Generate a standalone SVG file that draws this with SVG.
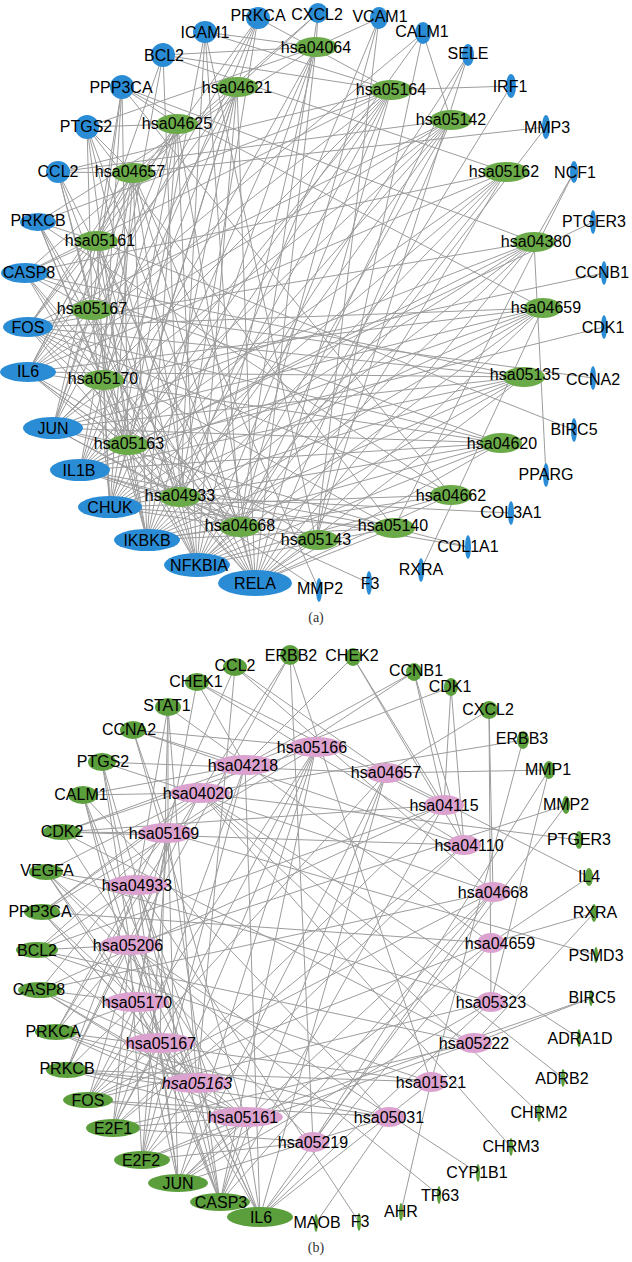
<svg xmlns="http://www.w3.org/2000/svg" width="632" height="1262" viewBox="0 0 632 1262">
<style>
.e{stroke:#9c9c9c;stroke-width:1;fill:none}
.nb{fill:#2b8cd6}
.ga{fill:#6aaa48}
.gb{fill:#5b9e3c}
.pk{fill:#dca2cf}
.t{font-family:"Liberation Sans",Arial,Helvetica,sans-serif;font-size:16px;text-anchor:middle;fill:#000}
.it{font-style:italic}
.cap{font-family:"Liberation Serif","Times New Roman",serif;font-size:14px;text-anchor:middle;fill:#333}
</style>
<rect width="632" height="1262" fill="#fff"/>
<g id="edges-a" class="e">
<path d="M255 583L237 87M255 583L316 47M255 583L391 90M255 583L451 120M255 583L506 172M255 583L534 242M255 583L543 308M255 583L524 377M255 583L501 443M255 583L451 495M255 583L394 528M255 583L316 540M255 583L240 527M255 583L180 497M255 583L128 445M255 583L103 380M255 583L92 310M255 583L97 241M255 583L133 173M255 583L177 124"/>
<path d="M197 565L237 87M197 565L316 47M197 565L391 90M197 565L451 120M197 565L506 172M197 565L534 242M197 565L543 308M197 565L524 377M197 565L501 443M197 565L451 495M197 565L394 528M197 565L240 527M197 565L180 497M197 565L128 445M197 565L103 380M197 565L92 310M197 565L97 241M197 565L133 173M197 565L177 124"/>
<path d="M147 540L237 87M147 540L316 47M147 540L391 90M147 540L451 120M147 540L506 172M147 540L534 242M147 540L543 308M147 540L524 377M147 540L501 443M147 540L451 495M147 540L394 528M147 540L240 527M147 540L128 445M147 540L103 380M147 540L92 310M147 540L97 241M147 540L133 173M147 540L177 124"/>
<path d="M110 507L237 87M110 507L316 47M110 507L391 90M110 507L451 120M110 507L506 172M110 507L534 242M110 507L543 308M110 507L524 377M110 507L501 443M110 507L451 495M110 507L394 528M110 507L240 527M110 507L128 445M110 507L103 380M110 507L92 310M110 507L97 241M110 507L133 173M110 507L177 124"/>
<path d="M80 470L237 87M80 470L316 47M80 470L391 90M80 470L451 120M80 470L506 172M80 470L534 242M80 470L543 308M80 470L524 377M80 470L501 443M80 470L394 528M80 470L316 540M80 470L240 527M80 470L180 497M80 470L128 445M80 470L133 173M80 470L177 124"/>
<path d="M53 428L237 87M53 428L391 90M53 428L451 120M53 428L534 242M53 428L543 308M53 428L524 377M53 428L501 443M53 428L394 528M53 428L240 527M53 428L180 497M53 428L128 445M53 428L103 380M53 428L92 310M53 428L97 241M53 428L133 173M53 428L177 124"/>
<path d="M28 372L237 87M28 372L391 90M28 372L451 120M28 372L506 172M28 372L543 308M28 372L524 377M28 372L501 443M28 372L316 540M28 372L240 527M28 372L180 497M28 372L128 445M28 372L92 310M28 372L97 241M28 372L133 173M28 372L177 124"/>
<path d="M28 327L451 120M28 327L534 242M28 327L543 308M28 327L524 377M28 327L501 443M28 327L451 495M28 327L394 528M28 327L240 527M28 327L128 445M28 327L103 380M28 327L92 310M28 327L97 241M28 327L133 173M28 327L177 124"/>
<path d="M25 273L237 87M25 273L391 90M25 273L506 172M25 273L524 377M25 273L501 443M25 273L240 527M25 273L128 445M25 273L103 380M25 273L92 310M25 273L97 241"/>
<path d="M38 222L316 47M38 222L391 90M38 222L451 495M38 222L180 497M38 222L128 445M38 222L103 380M38 222L92 310M38 222L97 241"/>
<path d="M58 172L391 90M58 172L451 120M58 172L240 527M58 172L180 497M58 172L128 445M58 172L92 310M58 172L133 173"/>
<path d="M87 127L316 47M87 127L394 528M87 127L240 527M87 127L180 497M87 127L128 445M87 127L92 310M87 127L133 173M87 127L177 124"/>
<path d="M122 87L534 242M122 87L543 308M122 87L451 495M122 87L128 445M122 87L103 380M122 87L92 310M122 87L97 241M122 87L177 124"/>
<path d="M163 55L316 47M163 55L391 90M163 55L506 172M163 55L180 497M163 55L103 380M163 55L97 241"/>
<path d="M205 32L316 47M205 32L391 90M205 32L316 540M205 32L240 527M205 32L180 497M205 32L128 445"/>
<path d="M258 18L391 90M258 18L180 497M258 18L128 445M258 18L103 380M258 18L92 310M258 18L97 241"/>
<path d="M318 13L237 87M318 13L316 47M318 13L240 527M318 13L133 173"/>
<path d="M379 18L316 47M379 18L316 540M379 18L240 527M379 18L180 497"/>
<path d="M423 33L451 120M423 33L316 540M423 33L128 445M423 33L92 310"/>
<path d="M468 55L316 540M468 55L240 527M468 55L180 497"/>
<path d="M511 86L391 90M511 86L240 527M546 127L133 173M546 127L240 527M574 172L534 242M574 172L394 528"/>
<path d="M593 222L128 445M604 273L103 380M604 327L128 445M593 378L92 310M574 430L97 241M546 475L534 242M511 513L180 497M468 547L180 497M468 547L394 528M421 570L543 308M369 583L180 497M319 590L180 497M319 590L133 173"/>
</g>
<g id="edges-b" class="e">
<path d="M260 1217L245 765M260 1217L386 773M260 1217L137 885M260 1217L493 892M260 1217L130 945M260 1217L491 943M260 1217L491 1002M260 1217L160 1043M260 1217L197 1083M260 1217L431 1082M260 1217L245 1117"/>
<path d="M220 1202L316 747M220 1202L386 773M220 1202L444 805M220 1202L168 833M220 1202L137 885M220 1202L493 892M220 1202L130 945M220 1202L137 1002M220 1202L160 1043M220 1202L197 1083M220 1202L245 1117"/>
<path d="M178 1183L316 747M178 1183L386 773M178 1183L168 833M178 1183L137 885M178 1183L493 892M178 1183L491 943M178 1183L137 1002M178 1183L491 1002M178 1183L160 1043M178 1183L245 1117M178 1183L389 1117"/>
<path d="M142 1160L316 747M142 1160L245 765M142 1160L168 833M142 1160L464 845M142 1160L130 945M142 1160L160 1043M142 1160L474 1043M142 1160L197 1083M142 1160L245 1117M142 1160L313 1142"/>
<path d="M113 1128L316 747M113 1128L245 765M113 1128L444 805M113 1128L168 833M113 1128L464 845M113 1128L130 945M113 1128L160 1043M113 1128L474 1043M113 1128L245 1117M113 1128L313 1142"/>
<path d="M88 1100L316 747M88 1100L386 773M88 1100L168 833M88 1100L493 892M88 1100L491 943M88 1100L137 1002M88 1100L491 1002M88 1100L160 1043M88 1100L245 1117M88 1100L389 1117"/>
<path d="M67 1070L200 793M67 1070L137 885M67 1070L130 945M67 1070L137 1002M67 1070L197 1083M67 1070L431 1082M67 1070L245 1117M67 1070L389 1117"/>
<path d="M56 1032L200 793M56 1032L137 885M56 1032L130 945M56 1032L137 1002M56 1032L197 1083M56 1032L431 1082M56 1032L245 1117M56 1032L389 1117"/>
<path d="M40 990L444 805M40 990L168 833M40 990L493 892M40 990L137 1002M40 990L160 1043M40 990L197 1083M40 990L245 1117"/>
<path d="M37 950L444 805M37 950L168 833M37 950L137 885M37 950L130 945M37 950L474 1043M37 950L431 1082M37 950L245 1117"/>
<path d="M42 912L316 747M42 912L245 765M42 912L200 793M42 912L491 943M42 912L137 1002M42 912L160 1043M42 912L197 1083"/>
<path d="M46 872L200 793M46 872L137 885M46 872L130 945M46 872L491 1002M46 872L160 1043M46 872L197 1083M46 872L313 1142"/>
<path d="M62 832L316 747M62 832L245 765M62 832L444 805M62 832L168 833M62 832L464 845M62 832L474 1043M62 832L245 1117"/>
<path d="M83 795L245 765M83 795L200 793M83 795L137 1002M83 795L160 1043M83 795L197 1083M83 795L389 1117"/>
<path d="M102 762L386 773M102 762L493 892M102 762L130 945M102 762L160 1043M102 762L197 1083"/>
<path d="M133 730L316 747M133 730L245 765M133 730L168 833M133 730L464 845M133 730L245 1117"/>
<path d="M168 707L168 833M168 707L137 885M168 707L491 943M168 707L160 1043M168 707L197 1083"/>
<path d="M197 682L245 765M197 682L444 805M197 682L464 845M197 682L137 1002"/>
<path d="M235 667L386 773M235 667L137 885M235 667L493 892M235 667L197 1083"/>
<path d="M290 655L200 793M290 655L130 945M290 655L431 1082M290 655L313 1142"/>
<path d="M353 657L245 765M353 657L444 805M353 657L464 845M414 672L245 765M414 672L444 805M414 672L464 845M414 672L168 833M451 687L245 765M451 687L444 805M451 687L464 845"/>
<path d="M489 710L386 773M489 710L493 892M489 710L491 1002M523 740L200 793M523 740L431 1082M549 770L386 773M549 770L491 1002M549 770L313 1142M566 805L313 1142M566 805L130 945M579 840L200 793"/>
<path d="M589 877L386 773M589 877L491 943M594 913L491 943M594 913L474 1043M596 955L168 833M591 998L474 1043M591 998L245 1117M579 1038L200 793M563 1078L200 793M539 1113L200 793M511 1147L200 793M478 1173L130 945M439 1195L130 945M401 1212L431 1082M359 1222L137 885M316 1223L389 1117"/>
</g>
<g id="nodes-a">
<g id="a-hsa04621"><ellipse class="ga" cx="237" cy="87" rx="21" ry="10"/><text class="t" x="237" y="93">hsa04621</text></g>
<g id="a-hsa04064"><ellipse class="ga" cx="316" cy="47" rx="21" ry="10"/><text class="t" x="316" y="53">hsa04064</text></g>
<g id="a-hsa05164"><ellipse class="ga" cx="391" cy="90" rx="21" ry="10"/><text class="t" x="391" y="95">hsa05164</text></g>
<g id="a-hsa05142"><ellipse class="ga" cx="451" cy="120" rx="21" ry="10"/><text class="t" x="451" y="125">hsa05142</text></g>
<g id="a-hsa05162"><ellipse class="ga" cx="506" cy="172" rx="23" ry="10"/><text class="t" x="504" y="177">hsa05162</text></g>
<g id="a-hsa04380"><ellipse class="ga" cx="534" cy="242" rx="21" ry="10"/><text class="t" x="536" y="247">hsa04380</text></g>
<g id="a-hsa04659"><ellipse class="ga" cx="543" cy="308" rx="19" ry="10"/><text class="t" x="546" y="313">hsa04659</text></g>
<g id="a-hsa05135"><ellipse class="ga" cx="524" cy="377" rx="21" ry="10"/><text class="t" x="525" y="380">hsa05135</text></g>
<g id="a-hsa04620"><ellipse class="ga" cx="501" cy="443" rx="21" ry="10"/><text class="t" x="502" y="449">hsa04620</text></g>
<g id="a-hsa04662"><ellipse class="ga" cx="451" cy="495" rx="21" ry="10"/><text class="t" x="451" y="501">hsa04662</text></g>
<g id="a-hsa05140"><ellipse class="ga" cx="394" cy="528" rx="21" ry="10"/><text class="t" x="393" y="531">hsa05140</text></g>
<g id="a-hsa05143"><ellipse class="ga" cx="318" cy="540" rx="21" ry="10"/><text class="t" x="316" y="545">hsa05143</text></g>
<g id="a-hsa04668"><ellipse class="ga" cx="240" cy="527" rx="21" ry="10"/><text class="t" x="240" y="531">hsa04668</text></g>
<g id="a-hsa04933"><ellipse class="ga" cx="180" cy="497" rx="21" ry="10"/><text class="t" x="180" y="501">hsa04933</text></g>
<g id="a-hsa05163"><ellipse class="ga" cx="128" cy="445" rx="21" ry="10"/><text class="t" x="129" y="449">hsa05163</text></g>
<g id="a-hsa05170"><ellipse class="ga" cx="103" cy="380" rx="21" ry="10"/><text class="t" x="103" y="384">hsa05170</text></g>
<g id="a-hsa05167"><ellipse class="ga" cx="92" cy="310" rx="21" ry="10"/><text class="t" x="92" y="314">hsa05167</text></g>
<g id="a-hsa05161"><ellipse class="ga" cx="97" cy="241" rx="21" ry="10"/><text class="t" x="100" y="246">hsa05161</text></g>
<g id="a-hsa04657"><ellipse class="ga" cx="133" cy="173" rx="21" ry="10"/><text class="t" x="130" y="177">hsa04657</text></g>
<g id="a-hsa04625"><ellipse class="ga" cx="177" cy="124" rx="21" ry="10"/><text class="t" x="177" y="129">hsa04625</text></g>
<g id="a-RELA"><ellipse class="nb" cx="255" cy="583" rx="37" ry="13"/><text class="t" x="255" y="589">RELA</text></g>
<g id="a-NFKBIA"><ellipse class="nb" cx="197" cy="565" rx="33" ry="12"/><text class="t" x="199" y="571">NFKBIA</text></g>
<g id="a-IKBKB"><ellipse class="nb" cx="147" cy="540" rx="33" ry="11"/><text class="t" x="147" y="546">IKBKB</text></g>
<g id="a-CHUK"><ellipse class="nb" cx="110" cy="507" rx="32" ry="11"/><text class="t" x="110" y="513">CHUK</text></g>
<g id="a-IL1B"><ellipse class="nb" cx="80" cy="470" rx="30" ry="11"/><text class="t" x="79" y="476">IL1B</text></g>
<g id="a-JUN"><ellipse class="nb" cx="53" cy="428" rx="30" ry="11"/><text class="t" x="53" y="434">JUN</text></g>
<g id="a-IL6"><ellipse class="nb" cx="28" cy="372" rx="28" ry="10"/><text class="t" x="28" y="377">IL6</text></g>
<g id="a-FOS"><ellipse class="nb" cx="28" cy="327" rx="25" ry="10"/><text class="t" x="28" y="333">FOS</text></g>
<g id="a-CASP8"><ellipse class="nb" cx="25" cy="273" rx="24" ry="10"/><text class="t" x="29" y="278">CASP8</text></g>
<g id="a-PRKCB"><ellipse class="nb" cx="38" cy="222" rx="18" ry="9"/><text class="t" x="38" y="226">PRKCB</text></g>
<g id="a-CCL2"><ellipse class="nb" cx="58" cy="172" rx="12" ry="11"/><text class="t" x="58" y="177">CCL2</text></g>
<g id="a-PTGS2"><ellipse class="nb" cx="87" cy="127" rx="12" ry="12"/><text class="t" x="86" y="132">PTGS2</text></g>
<g id="a-PPP3CA"><ellipse class="nb" cx="122" cy="87" rx="12" ry="12"/><text class="t" x="121" y="93">PPP3CA</text></g>
<g id="a-BCL2"><ellipse class="nb" cx="163" cy="55" rx="12" ry="12"/><text class="t" x="164" y="61">BCL2</text></g>
<g id="a-ICAM1"><ellipse class="nb" cx="205" cy="32" rx="12" ry="11"/><text class="t" x="205" y="38">ICAM1</text></g>
<g id="a-PRKCA"><ellipse class="nb" cx="258" cy="18" rx="12" ry="11"/><text class="t" x="258" y="21">PRKCA</text></g>
<g id="a-CXCL2"><ellipse class="nb" cx="318" cy="13" rx="10" ry="10"/><text class="t" x="317" y="20">CXCL2</text></g>
<g id="a-VCAM1"><ellipse class="nb" cx="379" cy="18" rx="9" ry="11"/><text class="t" x="380" y="22">VCAM1</text></g>
<g id="a-CALM1"><ellipse class="nb" cx="423" cy="33" rx="8" ry="11"/><text class="t" x="422" y="37">CALM1</text></g>
<g id="a-SELE"><ellipse class="nb" cx="468" cy="55" rx="6" ry="11"/><text class="t" x="468" y="59">SELE</text></g>
<g id="a-IRF1"><ellipse class="nb" cx="511" cy="86" rx="5" ry="12"/><text class="t" x="510" y="92">IRF1</text></g>
<g id="a-MMP3"><ellipse class="nb" cx="546" cy="127" rx="4" ry="12"/><text class="t" x="547" y="133">MMP3</text></g>
<g id="a-NCF1"><ellipse class="nb" cx="574" cy="172" rx="4" ry="11"/><text class="t" x="575" y="178">NCF1</text></g>
<g id="a-PTGER3"><ellipse class="nb" cx="593" cy="222" rx="3" ry="12"/><text class="t" x="594" y="227">PTGER3</text></g>
<g id="a-CCNB1"><ellipse class="nb" cx="604" cy="273" rx="3" ry="12"/><text class="t" x="602" y="278">CCNB1</text></g>
<g id="a-CDK1"><ellipse class="nb" cx="604" cy="327" rx="3" ry="12"/><text class="t" x="603" y="333">CDK1</text></g>
<g id="a-CCNA2"><ellipse class="nb" cx="593" cy="378" rx="3" ry="12"/><text class="t" x="593" y="385">CCNA2</text></g>
<g id="a-BIRC5"><ellipse class="nb" cx="574" cy="430" rx="3" ry="12"/><text class="t" x="574" y="435">BIRC5</text></g>
<g id="a-PPARG"><ellipse class="nb" cx="546" cy="475" rx="3" ry="12"/><text class="t" x="546" y="480">PPARG</text></g>
<g id="a-COL3A1"><ellipse class="nb" cx="511" cy="513" rx="3" ry="12"/><text class="t" x="511" y="518">COL3A1</text></g>
<g id="a-COL1A1"><ellipse class="nb" cx="468" cy="547" rx="3" ry="12"/><text class="t" x="468" y="552">COL1A1</text></g>
<g id="a-RXRA"><ellipse class="nb" cx="421" cy="570" rx="3" ry="12"/><text class="t" x="421" y="575">RXRA</text></g>
<g id="a-F3"><ellipse class="nb" cx="369" cy="583" rx="3" ry="12"/><text class="t" x="370" y="589">F3</text></g>
<g id="a-MMP2"><ellipse class="nb" cx="319" cy="590" rx="3" ry="12"/><text class="t" x="320" y="594">MMP2</text></g>
</g>
<text class="cap" x="316" y="622">(a)</text>
<g id="nodes-b">
<g id="b-hsa05166"><ellipse class="pk" cx="316" cy="747" rx="28" ry="10"/><text class="t" x="312" y="753">hsa05166</text></g>
<g id="b-hsa04218"><ellipse class="pk" cx="245" cy="765" rx="32" ry="10"/><text class="t" x="243" y="771">hsa04218</text></g>
<g id="b-hsa04657"><ellipse class="pk" cx="386" cy="773" rx="20" ry="10"/><text class="t" x="386" y="778">hsa04657</text></g>
<g id="b-hsa04020"><ellipse class="pk" cx="200" cy="793" rx="30" ry="10"/><text class="t" x="198" y="799">hsa04020</text></g>
<g id="b-hsa04115"><ellipse class="pk" cx="444" cy="805" rx="20" ry="10"/><text class="t" x="444" y="811">hsa04115</text></g>
<g id="b-hsa05169"><ellipse class="pk" cx="166" cy="833" rx="28" ry="10"/><text class="t" x="164" y="839">hsa05169</text></g>
<g id="b-hsa04110"><ellipse class="pk" cx="464" cy="845" rx="17" ry="10"/><text class="t" x="469" y="851">hsa04110</text></g>
<g id="b-hsa04933"><ellipse class="pk" cx="137" cy="885" rx="31" ry="10"/><text class="t" x="137" y="891">hsa04933</text></g>
<g id="b-hsa04668"><ellipse class="pk" cx="493" cy="892" rx="18" ry="10"/><text class="t" x="493" y="898">hsa04668</text></g>
<g id="b-hsa05206"><ellipse class="pk" cx="130" cy="945" rx="30" ry="10"/><text class="t" x="128" y="951">hsa05206</text></g>
<g id="b-hsa04659"><ellipse class="pk" cx="491" cy="943" rx="14" ry="10"/><text class="t" x="500" y="949">hsa04659</text></g>
<g id="b-hsa05170"><ellipse class="pk" cx="137" cy="1002" rx="32" ry="10"/><text class="t" x="137" y="1008">hsa05170</text></g>
<g id="b-hsa05323"><ellipse class="pk" cx="491" cy="1002" rx="15" ry="10"/><text class="t" x="491" y="1008">hsa05323</text></g>
<g id="b-hsa05167"><ellipse class="pk" cx="160" cy="1043" rx="35" ry="10"/><text class="t" x="161" y="1049">hsa05167</text></g>
<g id="b-hsa05222"><ellipse class="pk" cx="474" cy="1043" rx="18" ry="10"/><text class="t" x="474" y="1049">hsa05222</text></g>
<g id="b-hsa05163"><ellipse class="pk" cx="197" cy="1083" rx="34" ry="10"/><text class="t it" x="197" y="1089">hsa05163</text></g>
<g id="b-hsa01521"><ellipse class="pk" cx="431" cy="1082" rx="16" ry="10"/><text class="t" x="431" y="1088">hsa01521</text></g>
<g id="b-hsa05161"><ellipse class="pk" cx="245" cy="1117" rx="38" ry="10"/><text class="t" x="243" y="1123">hsa05161</text></g>
<g id="b-hsa05031"><ellipse class="pk" cx="389" cy="1117" rx="16" ry="10"/><text class="t" x="389" y="1123">hsa05031</text></g>
<g id="b-hsa05219"><ellipse class="pk" cx="313" cy="1142" rx="16" ry="10"/><text class="t" x="313" y="1148">hsa05219</text></g>
<g id="b-IL6"><ellipse class="gb" cx="260" cy="1217" rx="33" ry="10"/><text class="t" x="261" y="1223">IL6</text></g>
<g id="b-CASP3"><ellipse class="gb" cx="220" cy="1202" rx="30" ry="9"/><text class="t" x="221" y="1208">CASP3</text></g>
<g id="b-JUN"><ellipse class="gb" cx="178" cy="1183" rx="30" ry="9"/><text class="t" x="178" y="1189">JUN</text></g>
<g id="b-E2F2"><ellipse class="gb" cx="142" cy="1160" rx="28" ry="9"/><text class="t" x="141" y="1166">E2F2</text></g>
<g id="b-E2F1"><ellipse class="gb" cx="113" cy="1128" rx="27" ry="9"/><text class="t" x="113" y="1134">E2F1</text></g>
<g id="b-FOS"><ellipse class="gb" cx="88" cy="1100" rx="25" ry="8"/><text class="t" x="88" y="1106">FOS</text></g>
<g id="b-PRKCB"><ellipse class="gb" cx="67" cy="1070" rx="21" ry="8"/><text class="t" x="67" y="1074">PRKCB</text></g>
<g id="b-PRKCA"><ellipse class="gb" cx="56" cy="1032" rx="21" ry="8"/><text class="t" x="53" y="1037">PRKCA</text></g>
<g id="b-CASP8"><ellipse class="gb" cx="40" cy="990" rx="22" ry="8"/><text class="t" x="39" y="995">CASP8</text></g>
<g id="b-BCL2"><ellipse class="gb" cx="37" cy="950" rx="21" ry="8"/><text class="t" x="37" y="956">BCL2</text></g>
<g id="b-PPP3CA"><ellipse class="gb" cx="42" cy="912" rx="18" ry="8"/><text class="t" x="40" y="917">PPP3CA</text></g>
<g id="b-VEGFA"><ellipse class="gb" cx="46" cy="872" rx="17" ry="8"/><text class="t" x="47" y="876">VEGFA</text></g>
<g id="b-CDK2"><ellipse class="gb" cx="62" cy="832" rx="19" ry="8"/><text class="t" x="62" y="837">CDK2</text></g>
<g id="b-CALM1"><ellipse class="gb" cx="83" cy="795" rx="15" ry="9"/><text class="t" x="81" y="800">CALM1</text></g>
<g id="b-PTGS2"><ellipse class="gb" cx="102" cy="762" rx="14" ry="9"/><text class="t" x="103" y="767">PTGS2</text></g>
<g id="b-CCNA2"><ellipse class="gb" cx="133" cy="730" rx="13" ry="9"/><text class="t" x="129" y="735">CCNA2</text></g>
<g id="b-STAT1"><ellipse class="gb" cx="168" cy="707" rx="13" ry="9"/><text class="t" x="167" y="711">STAT1</text></g>
<g id="b-CHEK1"><ellipse class="gb" cx="197" cy="682" rx="12" ry="9"/><text class="t" x="196" y="687">CHEK1</text></g>
<g id="b-CCL2"><ellipse class="gb" cx="235" cy="667" rx="12" ry="9"/><text class="t" x="235" y="671">CCL2</text></g>
<g id="b-ERBB2"><ellipse class="gb" cx="290" cy="655" rx="10" ry="10"/><text class="t" x="291" y="661">ERBB2</text></g>
<g id="b-CHEK2"><ellipse class="gb" cx="353" cy="657" rx="8" ry="9"/><text class="t" x="352" y="661">CHEK2</text></g>
<g id="b-CCNB1"><ellipse class="gb" cx="414" cy="672" rx="8" ry="9"/><text class="t" x="416" y="676">CCNB1</text></g>
<g id="b-CDK1"><ellipse class="gb" cx="451" cy="687" rx="7" ry="9"/><text class="t" x="450" y="692">CDK1</text></g>
<g id="b-CXCL2"><ellipse class="gb" cx="489" cy="710" rx="9" ry="9"/><text class="t" x="488" y="715">CXCL2</text></g>
<g id="b-ERBB3"><ellipse class="gb" cx="523" cy="740" rx="6" ry="9"/><text class="t" x="522" y="744">ERBB3</text></g>
<g id="b-MMP1"><ellipse class="gb" cx="549" cy="770" rx="6" ry="9"/><text class="t" x="548" y="775">MMP1</text></g>
<g id="b-MMP2"><ellipse class="gb" cx="566" cy="805" rx="4" ry="9"/><text class="t" x="566" y="810">MMP2</text></g>
<g id="b-PTGER3"><ellipse class="gb" cx="579" cy="840" rx="4" ry="9"/><text class="t" x="579" y="845">PTGER3</text></g>
<g id="b-IL4"><ellipse class="gb" cx="589" cy="877" rx="4" ry="9"/><text class="t" x="589" y="882">IL4</text></g>
<g id="b-RXRA"><ellipse class="gb" cx="594" cy="913" rx="3" ry="9"/><text class="t" x="595" y="918">RXRA</text></g>
<g id="b-PSMD3"><ellipse class="gb" cx="596" cy="955" rx="2" ry="8"/><text class="t" x="596" y="961">PSMD3</text></g>
<g id="b-BIRC5"><ellipse class="gb" cx="591" cy="998" rx="2" ry="8"/><text class="t" x="592" y="1003">BIRC5</text></g>
<g id="b-ADRA1D"><ellipse class="gb" cx="579" cy="1038" rx="2" ry="9"/><text class="t" x="580" y="1044">ADRA1D</text></g>
<g id="b-ADRB2"><ellipse class="gb" cx="563" cy="1078" rx="2" ry="9"/><text class="t" x="562" y="1084">ADRB2</text></g>
<g id="b-CHRM2"><ellipse class="gb" cx="539" cy="1113" rx="2" ry="9"/><text class="t" x="539" y="1118">CHRM2</text></g>
<g id="b-CHRM3"><ellipse class="gb" cx="511" cy="1147" rx="2" ry="9"/><text class="t" x="511" y="1152">CHRM3</text></g>
<g id="b-CYP1B1"><ellipse class="gb" cx="478" cy="1173" rx="2" ry="9"/><text class="t" x="477" y="1178">CYP1B1</text></g>
<g id="b-TP63"><ellipse class="gb" cx="439" cy="1195" rx="2" ry="9"/><text class="t" x="440" y="1201">TP63</text></g>
<g id="b-AHR"><ellipse class="gb" cx="401" cy="1212" rx="2" ry="9"/><text class="t" x="401" y="1217">AHR</text></g>
<g id="b-F3"><ellipse class="gb" cx="359" cy="1222" rx="2" ry="9"/><text class="t" x="360" y="1227">F3</text></g>
<g id="b-MAOB"><ellipse class="gb" cx="316" cy="1223" rx="2" ry="9"/><text class="t" x="317" y="1228">MAOB</text></g>
</g>
<text class="cap" x="316" y="1252">(b)</text>
</svg>
